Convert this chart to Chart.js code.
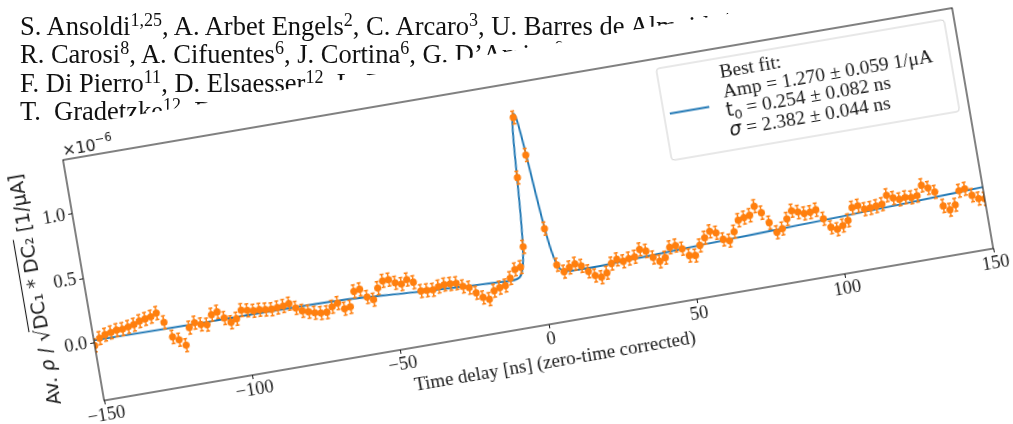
<!DOCTYPE html>
<html>
<head>
<meta charset="utf-8">
<script src="https://cdn.jsdelivr.net/npm/chart.js@4.4.1/dist/chart.umd.min.js"></script>
<style>
  html, body { margin: 0; padding: 0; background: #fff; overflow: hidden; width: 1013px; height: 424px; }
  #authors { position: absolute; left: 20px; top: 12px; font-family: "Liberation Serif", serif; font-size: 26.5px;
             line-height: 28.3px; color: #111; white-space: nowrap; filter: blur(0.35px); }
  #authors sup { font-size: 0.68em; line-height: 0; vertical-align: 0.5em; }
  #paper { position: absolute; background: #fff; width: 1600px; height: 700px; filter: blur(0.35px); }
  #paper canvas { position: absolute; }
</style>
</head>
<body>
<div id="authors">
  S. Ansoldi<sup>1,25</sup>, A. Arbet Engels<sup>2</sup>, C. Arcaro<sup>3</sup>, U. Barres de Almeida<sup>4</sup>, A. Berti<sup>5</sup>,<br>
  R. Carosi<sup>8</sup>, A. Cifuentes<sup>6</sup>, J. Cortina<sup>6</sup>, G. D’Amico<sup>9</sup>, V. D’Elia<sup>10</sup>,<br>
  F. Di Pierro<sup>11</sup>, D. Elsaesser<sup>12</sup>, L. Foffano<sup>13</sup>, M. Gaug<sup>14</sup>,<br>
  T. &nbsp;Gradetzke<sup>12</sup>, D. Green<sup>15</sup>,
</div>
<div id="paper"><canvas id="corr" width="1032" height="404"></canvas></div>
<script>
// time delay of each bin [ns], zero-time corrected
const TIME = [-150, -148, -146, -144, -142, -140, -138, -136, -134, -132,
  -130, -128, -126, -124, -122, -120, -118, -116, -114, -112,
  -110, -108, -106, -104, -102, -100, -98, -96, -94, -92,
  -90, -88, -86, -84, -82, -80, -78, -76, -74, -72,
  -70, -68, -66, -64, -62, -60, -58, -56, -54, -52,
  -50, -48, -46, -44, -42, -40, -38, -36, -34, -32,
  -30, -28, -26, -24, -22, -20, -18, -16, -14, -12,
  -10, -8, -6, -4, -2, 0, 2, 4, 6, 8,
  10, 12, 14, 16, 18, 20, 22, 24, 26, 28,
  30, 32, 34, 36, 38, 40, 42, 44, 46, 48,
  50, 52, 54, 56, 58, 60, 62, 64, 66, 68,
  70, 72, 74, 76, 78, 80, 82, 84, 86, 88,
  90, 92, 94, 96, 98, 100, 102, 104, 106, 108,
  110, 112, 114, 116, 118, 120, 122, 124, 126, 128,
  130, 132, 134, 136, 138, 140, 142, 144, 146, 148,
  150];

// averaged correlation, units of 1e-6 1/uA
const RHO = [-0.023, 0.027, 0.047, 0.056, 0.066, 0.065, 0.075, 0.085, 0.104, 0.114,
  0.123, 0.143, 0.063, -0.058, -0.088, -0.138, -0.009, 0.021, 0.000, -0.010,
  0.059, 0.074, 0.018, -0.022, -0.003, 0.056, 0.046, 0.035, 0.035, 0.029,
  0.024, 0.029, 0.033, 0.043, 0.002, -0.028, -0.043, -0.059, -0.069, -0.070,
  -0.036, -0.015, -0.067, -0.060, 0.052, 0.060, -0.008, -0.036, 0.046, 0.094,
  0.096, 0.063, 0.046, 0.073, 0.045, -0.032, -0.035, -0.038, -0.021, -0.013,
  -0.016, -0.019, -0.051, -0.069, -0.117, -0.160, -0.182, -0.125, -0.108, -0.100,
  -0.050, 0.010, 0.020, 0.170, 0.700, 1.160, 0.860, 0.280, -0.010, -0.070,
  -0.045, -0.025, -0.050, -0.100, -0.140, -0.160, -0.134, -0.070, -0.045, -0.068,
  -0.056, -0.050, 0.000, -0.020, -0.078, -0.116, -0.095, -0.023, -0.017, -0.050,
  -0.110, -0.118, -0.047, 0.004, 0.046, 0.027, -0.032, -0.050, 0.011, 0.093,
  0.105, 0.116, 0.178, 0.120, 0.035, -0.048, -0.027, 0.040, 0.096, 0.078,
  0.059, 0.061, 0.072, -0.006, -0.080, -0.103, -0.082, -0.050, 0.041, 0.048,
  0.014, 0.016, 0.022, 0.029, 0.090, 0.062, 0.043, 0.050, 0.042, 0.048,
  0.120, 0.092, 0.054, -0.064, -0.102, -0.071, 0.031, 0.038, -0.020, -0.054,
  -0.062];
const RHO_ERR = 0.05;

// best fit curve
const FIT_T = [-150, -110, -70, -40, -20, -14, -10, -8, -6, -5, -4, -3, -2, -1, 0, 1, 2, 3, 4, 5, 6, 7, 8, 10, 14, 20, 30, 54, 88, 122, 150];
const FIT_RHO = [0.017, 0.010, 0.004, -0.036, -0.060, -0.066, -0.071, -0.067, -0.030, 0.042, 0.189, 0.431, 0.743, 1.037, 1.193, 1.139,
  0.899, 0.582, 0.298, 0.104, -0.001, -0.048, -0.065, -0.072, -0.074, -0.074, -0.066, -0.047, -0.022, 0.003, 0.028];

const X_TICKS = [-150, -100, -50, 0, 50, 100, 150];
const Y_TICKS = [0, 0.5, 1.0];

const ORANGE = '#ff7f0e', BLUE = '#1f77b4', INK = '#1a1a1a';
const SERIF = '"Liberation Serif", "Times New Roman", serif';
const SANS = '"DejaVu Sans", sans-serif';

// vertical error bars under the markers
const errorBars = {
  id: 'errorBars',
  beforeDatasetDraw(chart, args) {
    if (args.index !== 0) return;
    const { ctx, chartArea: a, scales: { x, y } } = chart;
    ctx.save();
    ctx.beginPath();
    ctx.rect(a.left, a.top, a.width, a.height);
    ctx.clip();
    ctx.strokeStyle = ORANGE;
    ctx.lineWidth = 1.5;
    TIME.forEach((t, i) => {
      const px = x.getPixelForValue(t);
      const lo = y.getPixelForValue(RHO[i] - RHO_ERR);
      const hi = y.getPixelForValue(RHO[i] + RHO_ERR);
      ctx.beginPath();
      ctx.moveTo(px, lo); ctx.lineTo(px, hi);
      ctx.moveTo(px - 2, lo); ctx.lineTo(px + 2, lo);
      ctx.moveTo(px - 2, hi); ctx.lineTo(px + 2, hi);
      ctx.stroke();
    });
    ctx.restore();
  }
};

// frame, titles, offset text and the legend box
const decorations = {
  id: 'decorations',
  afterDraw(chart) {
    const { ctx, chartArea: a } = chart;
    ctx.save();
    ctx.strokeStyle = INK;
    ctx.lineWidth = 1.1;
    ctx.strokeRect(a.left, a.top, a.width, a.height);

    ctx.fillStyle = INK;
    // x title
    ctx.font = `19px ${SERIF}`;
    ctx.textAlign = 'center';
    ctx.textBaseline = 'middle';
    ctx.fillText('Time delay [ns] (zero-time corrected)', a.left + a.width / 2, a.bottom + 38);

    // offset text
    ctx.textAlign = 'left';
    ctx.textBaseline = 'alphabetic';
    ctx.font = `16px ${SANS}`;
    ctx.fillText('\u00d710', a.left + 1, a.top - 4);
    const w10 = ctx.measureText('\u00d710').width;
    ctx.font = `11.5px ${SANS}`;
    ctx.fillText('\u22126', a.left + 1 + w10, a.top - 11);

    // y title
    ctx.save();
    ctx.translate(a.left - 50, a.top + a.height / 2 + 1);
    ctx.rotate(-Math.PI / 2);
    const parts = [
      ['Av. ', `19px ${SANS}`],
      ['\u03c1', `italic 19px ${SANS}`],
      [' / ', `19px ${SANS}`],
      ['\u221a', `20px ${SANS}`],
      ['DC\u2081 * DC\u2082', `19px ${SANS}`],
      [' [1/\u03bcA]', `19px ${SANS}`]
    ];
    let total = 0;
    parts.forEach(p => { ctx.font = p[1]; total += ctx.measureText(p[0]).width; });
    let cx = -total / 2;
    ctx.textAlign = 'left';
    ctx.textBaseline = 'alphabetic';
    parts.forEach((p, i) => {
      ctx.font = p[1];
      const w = ctx.measureText(p[0]).width;
      ctx.fillText(p[0], cx, 7);
      if (i === 4) {
        ctx.lineWidth = 1.1;
        ctx.beginPath();
        ctx.moveTo(cx - 1, -12.5);
        ctx.lineTo(cx + w, -12.5);
        ctx.stroke();
      }
      cx += w;
    });
    ctx.restore();

    // legend
    const lx = a.left + 600, ly = a.top + 10, lw = 292, lh = 93;
    ctx.fillStyle = 'rgba(255,255,255,0.85)';
    ctx.strokeStyle = '#d0d0d0';
    ctx.lineWidth = 1;
    ctx.beginPath();
    ctx.roundRect(lx, ly, lw, lh, 3);
    ctx.fill();
    ctx.stroke();
    ctx.strokeStyle = BLUE;
    ctx.lineWidth = 1.8;
    ctx.beginPath();
    ctx.moveTo(lx + 6, ly + 46.5);
    ctx.lineTo(lx + 46, ly + 46.5);
    ctx.stroke();

    const rows = [
      [['Best fit:', `19.5px ${SERIF}`, 0]],
      [['Amp = 1.270 \u00b1 0.059 1/\u03bcA', `19.5px ${SERIF}`, 0]],
      [['t', `19px ${SANS}`, 0], ['0', `13px ${SANS}`, 4], [' = 0.254 \u00b1 0.082 ns', `19.5px ${SERIF}`, 0]],
      [['\u03c3', `italic 19px ${SANS}`, 0], [' = 2.382 \u00b1 0.044 ns', `19.5px ${SERIF}`, 0]]
    ];
    const baselines = [30, 49.5, 68.5, 88.5];
    ctx.fillStyle = INK;
    rows.forEach((row, r) => {
      let tx = lx + 62;
      row.forEach(([txt, font, dy]) => {
        ctx.font = font;
        ctx.fillText(txt, tx, a.top + baselines[r] + dy);
        tx += ctx.measureText(txt).width;
      });
    });
    ctx.restore();
  }
};

const canvas = document.getElementById('corr');
const chart = new Chart(canvas, {
  type: 'scatter',
  data: {
    datasets: [
      {
        label: 'data',
        data: TIME.map((t, i) => ({ x: t, y: RHO[i] })),
        pointRadius: 3.6,
        pointBackgroundColor: ORANGE,
        pointBorderWidth: 0,
        order: 0
      },
      {
        label: 'Best fit',
        data: FIT_T.map((t, i) => ({ x: t, y: FIT_RHO[i] })),
        showLine: true,
        borderColor: BLUE,
        borderWidth: 1.9,
        pointRadius: 0,
        cubicInterpolationMode: 'monotone',
        order: 1
      }
    ]
  },
  options: {
    responsive: false,
    animation: false,
    devicePixelRatio: 1,
    layout: { padding: { left: 40, right: 30, top: 50, bottom: 40 } },
    plugins: { legend: { display: false }, tooltip: { enabled: false } },
    scales: {
      x: {
        type: 'linear', min: -150, max: 150,
        afterBuildTicks: s => { s.ticks = X_TICKS.map(v => ({ value: v })); },
        afterFit: s => { s.height = 70; },
        grid: { drawOnChartArea: false, drawTicks: true, tickLength: 4, color: INK },
        border: { display: false },
        ticks: {
          padding: 0, color: INK, maxRotation: 0, autoSkip: false,
          font: { family: SERIF, size: 18.5 },
          callback: v => (v < 0 ? '\u2212' + Math.abs(v) : String(v))
        }
      },
      y: {
        type: 'linear', min: -0.45, max: 1.42,
        afterBuildTicks: s => { s.ticks = Y_TICKS.map(v => ({ value: v })); },
        afterFit: s => { s.width = 60; },
        grid: { drawOnChartArea: false, drawTicks: true, tickLength: 4, color: INK },
        border: { display: false },
        ticks: {
          padding: 3, color: INK, autoSkip: false,
          font: { family: SERIF, size: 18.5 },
          callback: v => v.toFixed(1)
        }
      }
    }
  },
  plugins: [errorBars, decorations]
});

// tilt the sheet so the plot corner sits where the photo shows it
const a = chart.chartArea;
const PX = 300, PY = 32;
const paper = document.getElementById('paper');
canvas.style.left = (PX - a.left) + 'px';
canvas.style.top = (PY - a.top) + 'px';
paper.style.left = (63 - PX) + 'px';
paper.style.top = (160 - PY) + 'px';
paper.style.transformOrigin = PX + 'px ' + PY + 'px';
paper.style.transform = 'rotate(-9.7deg)';
</script>
</body>
</html>
